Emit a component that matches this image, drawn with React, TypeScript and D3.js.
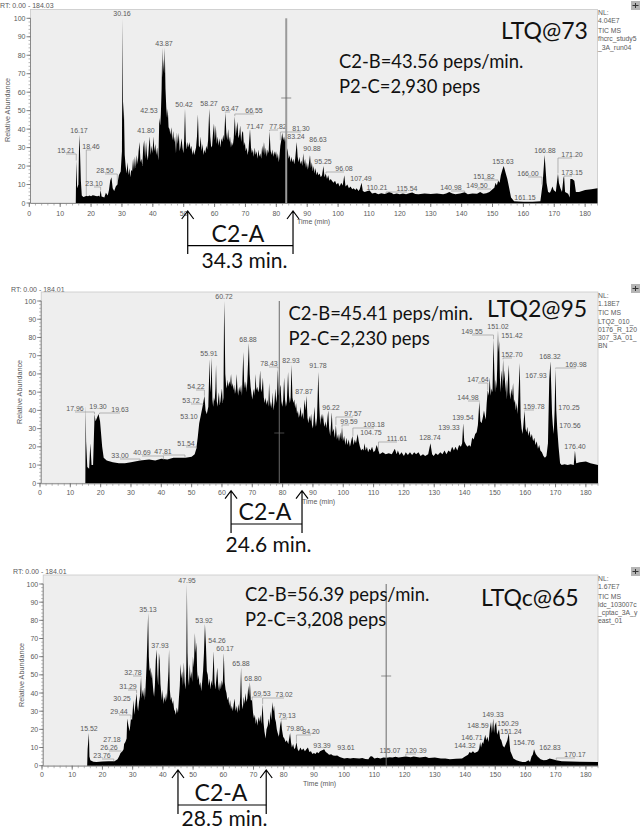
import React from "react";
import * as d3 from "d3";

// ---------- data: retention time (min) , relative abundance (%)
const trace1: number[][] = [[0,0],[14.9,0],[15.05,0],[15.21,23],[15.5,8],[15.9,10],[16.17,37],[16.4,29],[16.7,12],[17,4],[17.5,3.2],[18,3.5],[18.5,3.9],[19,3.6],[19.5,4],[20,3.7],[20.5,4.2],[21,4],[21.5,3.8],[22,3.6],[22.5,3.9],[22.8,3.4],[23.1,7],[23.4,3.5],[23.9,3.3],[24.3,3],[24.8,5.5],[25.4,4],[25.8,7],[26.2,12],[26.6,14],[27,8],[27.5,6.5],[28,9],[28.5,10],[29,15],[29.6,17],[30,28],[30.16,100],[30.35,45],[30.6,55],[30.9,26],[31.2,20],[31.5,16],[31.8,22],[32.1,15],[32.4,19],[32.7,14],[33,18],[33.3,17],[33.6,24],[33.9,18],[34.2,25],[34.5,19],[34.8,26],[35.1,21],[35.4,28],[35.7,33],[36,22],[36.3,24],[36.6,20],[36.9,30],[37.2,34],[37.5,24],[37.8,33],[38.1,26],[38.4,23],[38.7,30],[39,36],[39.3,26],[39.6,31],[39.9,27],[40.2,36],[40.5,28],[40.8,32],[41.1,26],[41.4,30],[41.8,23],[42.1,46],[42.4,42],[42.6,48],[42.85,62],[43.05,84],[43.25,68],[43.45,78],[43.65,70],[43.87,84],[44.1,62],[44.35,52],[44.6,46],[44.85,51],[45.1,41],[45.4,40],[45.7,37],[46,41],[46.3,34],[46.6,39],[46.9,33],[47.2,36],[47.5,27],[47.8,38],[48.1,32],[48.4,38],[48.7,28],[49,31],[49.3,35],[49.6,30],[49.9,27],[50.15,34],[50.42,51],[50.7,33],[51,29],[51.3,33],[51.6,30],[51.9,33],[52.2,29],[52.5,31],[52.8,26],[53.1,29],[53.4,26],[53.7,28],[54,30],[54.3,36],[54.6,48],[54.9,31],[55.2,30],[55.5,36],[55.8,28],[56.1,32],[56.4,26],[56.7,29],[57,27],[57.3,31],[57.6,29],[57.9,34],[58.27,51],[58.6,36],[58.9,30],[59.2,31],[59.5,38],[59.8,43],[60.1,34],[60.4,42],[60.7,32],[61,36],[61.3,31],[61.6,35],[61.9,30],[62.2,35],[62.5,33],[62.8,37],[63.1,34],[63.47,49],[63.8,38],[64.1,34],[64.4,40],[64.7,33],[65,36],[65.3,30],[65.6,33],[65.9,31],[66.2,35],[66.55,47],[66.85,36],[67.1,40],[67.4,44],[67.7,35],[68,37],[68.3,42],[68.6,33],[68.9,38],[69.2,39],[69.5,31],[69.8,33],[70.1,28],[70.4,30],[70.7,26],[71,29],[71.47,40],[71.8,30],[72.1,27],[72.4,29],[72.7,25],[73,30],[73.3,26],[73.6,28],[73.9,24],[74.2,29],[74.5,25],[74.8,27],[75.1,24],[75.4,31],[75.7,27],[76,33],[76.3,26],[76.6,30],[76.9,25],[77.2,29],[77.5,27],[77.82,39],[78.1,29],[78.4,26],[78.7,29],[79,25],[79.3,28],[79.6,26],[79.9,28],[80.2,24],[80.5,27],[80.8,22],[81,25],[81.3,31],[81.6,34],[81.9,38],[82.2,34],[82.5,36],[82.8,33],[83.1,35],[83.4,30],[83.7,28],[84,24],[84.3,26],[84.6,22],[84.9,25],[85.2,22],[85.5,24],[85.8,21],[86.1,24],[86.6,33],[86.9,25],[87.2,22],[87.5,25],[87.8,21],[88.1,23],[88.4,20],[88.7,27],[89,21],[89.3,24],[89.6,19],[89.9,22],[90.2,18],[90.5,21],[90.9,26],[91.2,19],[91.5,22],[91.8,17],[92.1,20],[92.4,16],[92.7,19],[93,15],[93.3,17],[93.6,15],[94,16],[94.4,14],[94.8,15],[95.25,20],[95.6,14],[96,16],[96.4,13],[96.8,15],[97.2,12],[97.6,13],[98,12],[98.5,11],[99,12],[99.5,10],[100,11],[100.5,9],[101,11],[101.5,9.5],[102,15],[102.4,9],[103,10],[103.5,8],[104,9],[104.6,7.5],[105,8],[105.6,7],[106,8],[106.6,6.5],[107,7.5],[107.6,11],[108,6.5],[108.6,6],[109.5,6.5],[110.2,6.8],[111,5.2],[112,5.5],[113,4.8],[114,5.3],[115,4.9],[115.54,5.2],[116.5,6],[117.2,5.6],[118,4.8],[119,5.2],[120,4.7],[121,5.2],[122,4.8],[123,5.3],[124,5.7],[125,4.9],[126,4.8],[128,5.1],[130,4.9],[132,5.1],[134,4.8],[135,5.2],[136,5.9],[137,5.2],[138,4.8],[139.5,5.2],[141,5.8],[142,4.7],[143.5,5.1],[145,5],[146,6],[147,5],[148,5.3],[149,6],[150,7.5],[150.6,8.2],[151,11],[151.4,9.5],[151.82,12],[152.3,11],[152.7,15],[153.2,18],[153.63,20],[154.3,16],[154.8,13],[155.3,9],[156,3],[157,1],[160,0.7],[163,0.7],[165.5,1],[166.2,10],[166.88,26],[167.2,18],[167.5,11],[168,6],[168.6,5.5],[169,7],[169.4,9],[169.8,7],[170.5,6],[171.2,16],[171.5,11],[172,8],[172.5,6],[173,14],[173.2,14],[173.5,6],[174.5,5],[175,3],[175.2,13],[175.8,13],[176.5,12],[177,6],[178,6],[180,7],[182,7.5],[184,8]];
const trace2: number[][] = [[0,0],[14.95,0],[15.05,43],[15.2,23],[15.6,9],[16.2,8],[16.6,22],[17,10],[17.5,10],[18,38],[18.3,34],[18.8,36],[19.3,38],[19.8,34],[20.5,20],[21,14],[22,12.5],[24,11.5],[26,11],[28,11],[30,11.5],[33,12.5],[36,13],[38,12.5],[40,13.5],[42,13],[44,14],[46,14],[48,14],[50,14.5],[51,16],[51.54,19],[52,25],[52.5,33],[53,37],[53.7,43],[54.22,48],[54.6,40],[55,38],[55.5,42],[55.91,68],[56.15,50],[56.35,55],[56.6,69],[56.85,46],[57.1,42],[57.35,47],[57.6,45],[57.85,52],[58.05,65],[58.3,45],[58.55,42],[58.8,47],[59,50],[59.25,43],[59.5,45],[59.75,49],[60,52],[60.25,44],[60.5,47],[60.72,100],[60.9,85],[61.1,60],[61.35,54],[61.6,52],[61.85,57],[62.1,53],[62.4,56],[62.7,54],[63,60],[63.25,53],[63.5,55],[63.75,51],[64,54],[64.3,49],[64.6,52],[64.85,60],[65.1,52],[65.35,48],[65.65,53],[66,50],[66.3,54],[66.6,48],[66.85,62],[67.05,72],[67.3,56],[67.6,52],[67.9,56],[68.15,50],[68.45,60],[68.88,77],[69.15,60],[69.45,53],[69.75,49],[70,46],[70.3,50],[70.6,52],[70.85,48],[71.05,60],[71.35,51],[71.65,53],[71.95,50],[72.25,52],[72.6,62],[72.9,50],[73.2,52],[73.5,58],[73.8,47],[74.1,44],[74.4,47],[74.7,43],[75,46],[75.3,42],[75.55,55],[75.85,42],[76.15,45],[76.45,41],[76.7,50],[77,40],[77.3,44],[77.6,52],[77.9,44],[78.15,48],[78.43,63],[78.75,48],[79.05,52],[79.3,54],[79.6,45],[79.9,42],[80.2,46],[80.5,58],[80.8,46],[81.1,42],[81.4,45],[81.8,61],[82.1,48],[82.4,44],[82.65,47],[82.93,65],[83.25,47],[83.55,44],[83.85,46],[84.15,41],[84.45,44],[84.75,38],[85.05,40],[85.35,36],[85.65,38],[85.95,42],[86.25,36],[86.55,39],[86.85,35],[87.2,46],[87.55,40],[87.87,48],[88.2,36],[88.5,33],[88.8,37],[89.1,34],[89.4,38],[89.7,32],[90,30],[90.25,36],[90.5,42],[90.75,34],[91,31],[91.35,36],[91.78,61],[92.1,42],[92.4,32],[92.7,38],[93,35],[93.3,38],[93.6,33],[93.9,31],[94.2,34],[94.5,30],[94.8,36],[95.05,40],[95.35,30],[95.7,26],[96.22,39],[96.5,28],[96.8,30],[97.2,25],[97.57,32],[97.9,24],[98.3,27],[98.6,23],[99,28],[99.3,24],[99.59,31],[99.9,23],[100.3,26],[100.7,21],[101,25],[101.4,21],[101.8,24],[102.2,20],[102.6,23],[103,26],[103.4,21],[103.8,24],[104.2,22],[104.75,27],[105.1,23],[105.5,20],[105.9,18],[106.3,19],[106.7,18],[107,22],[107.4,18],[107.8,20],[108.2,17],[108.6,19],[109,18],[109.5,20],[110,17],[110.5,18],[111,21],[111.6,18],[112,16],[113,17],[114,16],[115,16.5],[116,16],[117,19],[117.6,16],[118,18],[118.6,15.5],[119.2,17],[120,15],[120.6,17],[121.3,15.5],[122,17],[122.7,15.5],[123.4,17],[124,16],[124.8,17],[125.5,15],[126.3,16],[127,15],[128,16],[128.74,22],[129.3,16],[129.8,15],[130.5,16.5],[131.2,15.5],[132,17],[132.7,16],[133.4,18],[134,16],[134.7,18],[135.3,17],[135.9,20],[136.5,18],[137,20],[137.6,18],[138.2,21],[138.8,20],[139.2,22],[139.54,33],[139.9,23],[140.5,21],[141,20],[141.5,21],[142,20],[142.5,25],[143,24],[143.5,27],[144,28],[144.4,32],[144.88,45],[145.2,34],[145.6,33],[146,36],[146.4,40],[146.7,37],[147,35],[147.3,44],[147.64,51],[148,48],[148.3,58],[148.6,48],[148.9,52],[149.2,50],[149.55,79],[149.8,62],[150.05,50],[150.3,57],[150.55,52],[150.75,63],[151.02,84],[151.2,72],[151.42,78],[151.65,58],[151.85,50],[152.05,58],[152.25,62],[152.45,52],[152.7,68],[152.95,56],[153.2,62],[153.45,50],[153.7,57],[153.95,46],[154.2,54],[154.6,65],[154.85,50],[155.1,46],[155.4,52],[155.7,48],[156,55],[156.3,44],[156.6,46],[156.9,40],[157.2,44],[157.5,38],[157.85,52],[158.2,66],[158.5,36],[158.8,30],[159.1,27],[159.4,32],[159.78,40],[160.1,30],[160.4,28],[160.7,31],[161,26],[161.4,29],[161.8,25],[162.2,27],[162.6,23],[163,25],[163.4,21],[163.8,23],[164.2,19],[164.6,21],[165,18],[165.5,17],[166,15],[166.5,14],[167,15],[167.5,22],[167.93,57],[168.32,67],[168.6,52],[168.85,38],[169.1,32],[169.4,27],[169.7,40],[169.98,63],[170.25,40],[170.56,30],[171,20],[171.5,11],[172,10],[173,10.5],[174,10],[175,10.5],[176,10],[176.4,18],[176.8,11],[178,11.5],[180,12],[181.5,11],[184,10]];
const trace3: number[][] = [[0,0],[14.95,0],[15.1,9],[15.52,18],[15.7,5],[16,3],[17,2.2],[18,2],[20,2.3],[22,2.5],[24,2.5],[25,3.5],[25.5,5],[26,7],[26.6,8],[27,9],[27.18,12],[27.6,13],[28,15],[28.2,26],[28.6,22],[29,19],[29.44,26],[29.8,25],[30,30],[30.25,36],[30.55,28],[30.85,33],[31.29,40],[31.55,33],[31.8,30],[32.1,35],[32.4,38],[32.78,49],[33,37],[33.25,42],[33.5,38],[33.8,43],[34.05,36],[34.3,44],[34.6,55],[34.85,68],[35.13,84],[35.35,60],[35.6,52],[35.85,54],[36.1,48],[36.35,52],[36.6,46],[36.85,41],[37.1,38],[37.35,44],[37.65,58],[37.93,64],[38.2,50],[38.45,44],[38.7,62],[38.95,58],[39.2,45],[39.45,40],[39.7,36],[39.95,42],[40.2,34],[40.5,38],[40.8,35],[41.05,40],[41.35,36],[41.6,44],[41.85,52],[42.05,64],[42.3,42],[42.6,36],[42.85,38],[43.1,34],[43.4,36],[43.7,31],[44,30],[44.3,28],[44.6,32],[45,29],[45.3,37],[45.6,44],[45.85,56],[46.15,48],[46.4,52],[46.65,44],[46.95,57],[47.2,46],[47.5,42],[47.75,54],[47.95,100],[48.15,62],[48.4,48],[48.65,44],[48.9,56],[49.15,48],[49.45,52],[49.7,46],[49.95,60],[50.25,54],[50.6,73],[50.85,62],[51.1,68],[51.35,52],[51.6,47],[51.85,50],[52.1,44],[52.4,46],[52.7,41],[53,46],[53.3,52],[53.6,62],[53.92,78],[54.26,66],[54.55,52],[54.85,50],[55.15,44],[55.45,48],[55.75,42],[56.05,47],[56.35,44],[56.8,63],[57.1,46],[57.4,42],[57.7,48],[58,54],[58.3,45],[58.6,41],[58.9,46],[59.2,42],[59.5,47],[59.8,44],[60.17,62],[60.45,46],[60.75,42],[61.05,40],[61.35,36],[61.65,38],[61.95,33],[62.25,36],[62.55,31],[62.85,33],[63.15,30],[63.45,34],[63.75,37],[64.05,30],[64.35,33],[64.65,29],[64.95,34],[65.3,30],[65.6,38],[65.88,54],[66.15,34],[66.45,31],[66.75,38],[67.05,34],[67.35,40],[67.65,35],[67.95,37],[68.3,44],[68.55,38],[68.8,46],[69.1,36],[69.53,36],[69.85,29],[70.15,26],[70.45,28],[70.75,23],[71.05,26],[71.35,22],[71.65,27],[71.95,24],[72.25,28],[72.55,23],[73.02,34],[73.3,24],[73.6,19],[74,15],[74.3,20],[74.7,22],[75,26],[75.3,22],[75.6,30],[75.9,25],[76.2,35],[76.5,30],[76.8,33],[77.1,26],[77.4,24],[77.7,20],[78,18],[78.4,16],[78.8,22],[79.13,25],[79.4,20],[79.8,16],[80.2,15],[80.6,13],[81,14],[81.5,12],[81.8,15],[82.1,18],[82.4,13],[82.7,10],[83.1,12],[83.5,9],[83.85,10],[84.2,13],[84.6,9],[85,8],[85.5,10],[86,8.5],[86.5,9.5],[87,8],[87.5,9],[88,10],[88.5,7.5],[89,8],[89.5,6.5],[90,7],[90.5,6.5],[91,7.5],[91.5,6.8],[92,8],[92.7,8.5],[93.39,9],[93.9,7.5],[94.4,7],[95,6],[95.7,6.3],[96.3,5.6],[97,5.5],[97.7,5.6],[98.5,4.8],[100,4],[101,4.3],[102,3.9],[103,4.3],[105,4],[106,4.2],[107,3.7],[108,3.5],[108.6,5],[109.2,5.2],[110,4],[111,4.4],[112,4],[113,4.5],[114,4.4],[115.07,4.7],[116,4.5],[117,4.9],[118,4.5],[120.39,5],[122,4.6],[123,5],[125,4.5],[127,4.9],[128,4.3],[130,4.5],[132,4],[133.5,4],[135,3.5],[137,3.8],[139,4],[140,5],[141,6],[141.5,7.5],[142,7],[142.6,8],[143.2,7],[144.32,8],[144.7,9.5],[145,13],[145.3,10],[145.7,13],[146,12],[146.4,15],[146.71,17],[147,14],[147.4,16],[147.8,13],[148.2,20],[148.59,24],[148.9,18],[149.33,26],[149.6,18],[149.85,22],[150.29,24],[150.6,17],[151,19],[151.24,20],[151.6,15],[152,14],[152.5,11],[153,10],[153.5,12],[154,14],[154.5,18],[154.76,12],[155,8],[155.5,6],[156,4],[157,3],[158,2.5],[159,2],[160,2],[161,3],[161.5,2],[162,5],[162.4,6],[162.83,9],[163.4,6.5],[164,5],[165,3.5],[166,3],[167,3.2],[168,4],[169,3.6],[170.17,3],[172,2.5],[178,2.2],[184,2]];

const peakNames1 = ["30.16","43.87","42.53","41.80","50.42","58.27","63.47","66.55","71.47","77.82","81.30","83.24","86.63","90.88","95.25","96.08","107.49","110.21","115.54","140.98","149.50","151.82","153.63","166.00","161.15","166.88","171.20","173.15","15.21","16.17","18.46","23.10","28.50"];
const peakNames2 = ["60.72","68.88","55.91","78.43","82.93","91.78","54.22","53.72","53.10","51.54","87.87","47.81","40.69","33.00","19.30","19.63","17.96","96.22","97.57","99.59","103.18","104.75","111.61","128.74","139.33","139.54","144.98","147.64","149.55","151.02","151.42","152.70","159.78","167.93","168.32","169.98","170.25","170.56","176.40"];
const peakNames3 = ["47.95","35.13","53.92","54.26","37.93","60.17","65.88","32.78","68.80","31.29","69.53","73.02","30.25","29.44","79.13","15.52","79.80","84.20","27.18","26.26","23.76","93.39","93.61","115.07","120.39","144.32","146.71","148.59","149.33","150.29","151.24","154.76","162.83","170.17"];

const gradient1 = [51.3, 85.4];
const gradient2 = [63.0, 86.4];
const gradient3 = [45.0, 74.2];
const cursorTimes = [83.2, 78.9, 113.9];

const sideNotes1 = ["NL:", "4.04E7", "TIC  MS", "fhcrc_study5", "_3A_run04"];
const sideNotes2 = ["NL:", "1.18E7", "TIC  MS", "LTQ2_010_", "0176_R_120", "307_3A_01_", "BN"];
const sideNotes3 = ["NL:", "1.67E7", "TIC  MS", "ldc_103007c", "_cptac_3A_y", "east_01"];

// ---------- layout
const labelAt1 = [[122,13],[164,43],[149,110],[146,130],[184,104],[209,103],[230,108],[254,110],[255,126],[278,126],[301,128],[296,136],[318,139],[312,148],[323,161],[344,168],[361,178],[377,187],[407,188],[451,187],[477,185],[484,176],[503,161],[528,173],[525,197],[545,150],[572,154],[572,172],[66,150],[79,130],[91,146],[94,183],[105,170]];
const labelAt2 = [[224,296],[248,339],[209,353],[269,363],[291,360],[318,365],[196,386],[191,400],[189,416],[186,443],[304,391],[163,451],[142,452],[120,455],[98,406],[120,409],[75,408],[331,407],[353,413],[349,421],[374,424],[371,432],[397,438],[430,437],[449,427],[463,417],[468,397],[478,379],[472,331],[498,326],[512,335],[512,354],[534,406],[536,375],[550,356],[576,364],[569,407],[570,425],[575,446]];
const labelAt3 = [[187,580],[148,609],[204,620],[217,640],[160,645],[225,648],[241,663],[133,672],[253,678],[128,686],[262,693],[284,694],[122,698],[119,711],[287,715],[89,728],[295,728],[311,731],[112,739],[109,747],[102,755],[322,745],[346,747],[390,750],[416,750],[465,745],[472,737],[478,725],[493,714],[508,723],[511,731],[524,742],[550,747],[575,754]];

const CHART = "'Liberation Sans', Arial, sans-serif";
const NOTE = "Lato, 'Open Sans', sans-serif";
const GREY = "#5a5a5a";

type PanelSpec = {
  trace: number[][]; names: string[]; spots: number[][]; notes: string[]; span: number[]; cursor: number;
  rt: string; rtX: number; rtY: number; top: number; y100: number; y0: number; x0: number; xEnd: number;
  yLabelX: number; yLabelY: number; timeX: number; timeY: number; tickY: number; crossY: number; cursorColor: string; cursorW: number;
  sideY: number[]; iconY: number;
  title: string; titleX: number; titleY: number; line1: string; line2: string; lineX: number; line1Y: number; line2Y: number;
  arrowTop: number; arrowBottom: number; barY: number; capX: number; capY: number; durText: string; durX: number; durY: number;
};

const panels: PanelSpec[] = [
  { trace: trace1, names: peakNames1, spots: labelAt1, notes: sideNotes1, span: gradient1, cursor: cursorTimes[0],
    rt: "RT: 0.00 - 184.03", rtX: 0, rtY: 7.5, top: 9.5, y100: 18.3, y0: 203, x0: 29.3, xEnd: 597.5,
    yLabelX: 10, yLabelY: 110, timeX: 297, timeY: 224, tickY: 215.5, crossY: 98, cursorColor: "#9a9a9a", cursorW: 2,
    sideY: [15, 23, 33, 41, 50], iconY: 1,
    title: "LTQ@73", titleX: 501, titleY: 38.7, line1: "C2-B=43.56 peps/min.", line2: "P2-C=2,930 peps", lineX: 339, line1Y: 67.7, line2Y: 92.7,
    arrowTop: 211, arrowBottom: 254, barY: 245.7, capX: 238, capY: 241.7, durText: "34.3 min.", durX: 244.5, durY: 268 },
  { trace: trace2, names: peakNames2, spots: labelAt2, notes: sideNotes2, span: gradient2, cursor: cursorTimes[1],
    rt: "RT: 0.00 - 184.01", rtX: 11, rtY: 291.5, top: 292, y100: 301, y0: 483.3, x0: 40, xEnd: 598,
    yLabelX: 21.5, yLabelY: 392, timeX: 302, timeY: 504, tickY: 494.5, crossY: 433, cursorColor: "#6a6a6a", cursorW: 1,
    sideY: [298, 306, 315, 324, 332, 340, 348], iconY: 284,
    title: "LTQ2@95", titleX: 487, titleY: 316.7, line1: "C2-B=45.41 peps/min.", line2: "P2-C=2,230 peps", lineX: 288.5, line1Y: 320, line2Y: 345,
    arrowTop: 490.7, arrowBottom: 533, barY: 524, capX: 265, capY: 520, durText: "24.6 min.", durX: 268.5, durY: 551.7 },
  { trace: trace3, names: peakNames3, spots: labelAt3, notes: sideNotes3, span: gradient3, cursor: cursorTimes[2],
    rt: "RT: 0.00 - 184.01", rtX: 13, rtY: 573.5, top: 575, y100: 584, y0: 765.7, x0: 42, xEnd: 598,
    yLabelX: 24, yLabelY: 675, timeX: 303, timeY: 786, tickY: 776.5, crossY: 676, cursorColor: "#6a6a6a", cursorW: 1,
    sideY: [581, 589, 599, 607, 615, 623], iconY: 567,
    title: "LTQc@65", titleX: 481, titleY: 605.7, line1: "C2-B=56.39 peps/min.", line2: "P2-C=3,208 peps", lineX: 245, line1Y: 600.7, line2Y: 625.7,
    arrowTop: 770, arrowBottom: 814, barY: 805, capX: 221, capY: 800.7, durText: "28.5 min.", durX: 224.5, durY: 825.5 },
];

function Panel({ p }: { p: PanelSpec }) {
  const x = d3.scaleLinear().domain([0, 184]).range([p.x0, p.xEnd]);
  const y = d3.scaleLinear().domain([0, 100]).range([p.y0, p.y100]);
  const area = d3.area<number[]>().x(d => x(d[0])).y0(p.y0).y1(d => y(d[1])).curve(d3.curveLinear);
  const peakValue = (t: number) => {
    const near = p.trace.filter(d => Math.abs(d[0] - t) <= 0.45);
    if (near.length) return d3.max(near, d => d[1]) as number;
    const i = d3.bisector((d: number[]) => d[0]).left(p.trace, t);
    return p.trace[Math.min(i, p.trace.length - 1)][1];
  };
  const xMinor = d3.range(0, 185, 2);
  const xMajor = d3.range(0, 181, 10);
  const yMinor = d3.range(0, 101, 2);
  const yMajor = d3.range(0, 101, 10);
  const left = p.x0 + 1.2;
  const arrow = (t: number) => {
    const ax = x(t);
    return `M${ax},${p.arrowBottom}V${p.arrowTop}M${ax - 6},${p.arrowTop + 8}L${ax},${p.arrowTop}L${ax + 6},${p.arrowTop + 8}`;
  };
  return (
    <g opacity={0.999}>
      <text x={p.rtX} y={p.rtY} fontFamily={CHART} fontSize={7} fill={GREY}>{p.rt}</text>
      <rect x={left} y={p.top} width={p.xEnd - left} height={p.y0 - p.top} fill="#eeeeee" stroke="#c8c8c8" strokeWidth={0.8} />
      <path d={area(p.trace) as string} fill="#000" stroke="none" />
      {/* axes */}
      <line x1={left} x2={left} y1={p.y100} y2={p.y0} stroke="#777" strokeWidth={0.8} />
      <line x1={left} x2={p.xEnd} y1={p.y0 + 0.5} y2={p.y0 + 0.5} stroke="#777" strokeWidth={0.8} />
      {yMinor.map(v => <line key={"ym" + v} x1={left - 2} x2={left} y1={y(v)} y2={y(v)} stroke="#888" strokeWidth={0.6} />)}
      {yMajor.map(v => <line key={"yM" + v} x1={left - 4} x2={left} y1={y(v)} y2={y(v)} stroke="#666" strokeWidth={0.8} />)}
      {yMajor.map(v => <text key={"yt" + v} x={left - 5} y={y(v) + 2.5} textAnchor="end" fontFamily={CHART} fontSize={7} fill={GREY}>{v}</text>)}
      {xMinor.map(v => <line key={"xm" + v} x1={x(v)} x2={x(v)} y1={p.y0} y2={p.y0 + 2.5} stroke="#888" strokeWidth={0.6} />)}
      {xMajor.map(v => <line key={"xM" + v} x1={x(v)} x2={x(v)} y1={p.y0} y2={p.y0 + 4} stroke="#666" strokeWidth={0.8} />)}
      {xMajor.map(v => <text key={"xt" + v} x={x(v)} y={p.tickY} textAnchor="middle" fontFamily={CHART} fontSize={7} fill={GREY}>{v}</text>)}
      <text transform={`translate(${p.yLabelX},${p.yLabelY}) rotate(-90)`} textAnchor="middle" fontFamily={CHART} fontSize={7.2} fill={GREY}>Relative Abundance</text>
      <text x={p.timeX} y={p.timeY} fontFamily={CHART} fontSize={7} fill={GREY}>Time (min)</text>
      {/* peak labels */}
      {p.names.map((name, i) => {
        const t = +name;
        const [lx, ly] = p.spots[i];
        const px = x(t);
        const py = y(peakValue(t));
        const under = ly + 4;
        const far = Math.abs(lx - px) > 4 && py > under;
        return (
          <g key={name + i}>
            {far && <path d={`M${lx},${under}H${px}V${py}`} fill="none" stroke="#9a9a9a" strokeWidth={0.7} />}
            <text x={lx} y={ly + 2.5} textAnchor="middle" fontFamily={CHART} fontSize={7} fill={GREY}>{name}</text>
          </g>
        );
      })}
      {/* cursor */}
      <line x1={x(p.cursor)} x2={x(p.cursor)} y1={p.y100} y2={p.y0} stroke={p.cursorColor} strokeWidth={p.cursorW} />
      <line x1={x(p.cursor) - 5} x2={x(p.cursor) + 5} y1={p.crossY} y2={p.crossY} stroke="#666" strokeWidth={0.7} />
      {/* side notes */}
      {p.notes.map((s, i) => <text key={i} x={598} y={p.sideY[i]} fontFamily={CHART} fontSize={6.8} fill={GREY}>{s}</text>)}
      <rect x={631} y={p.iconY} width={9} height={9} fill="#b5b5b5" />
      <path d={`M632.5,${p.iconY + 4.5}H638.5M635.5,${p.iconY + 2}V${p.iconY + 7}`} stroke="#333" strokeWidth={1} />
      {/* annotations */}
      <text x={p.titleX} y={p.titleY} fontFamily={NOTE} fontSize={23} fill="#111">{p.title}</text>
      <text x={p.lineX} y={p.line1Y} fontFamily={NOTE} fontSize={18.4} fill="#111">{p.line1}</text>
      <text x={p.lineX} y={p.line2Y} fontFamily={NOTE} fontSize={18.4} fill="#111">{p.line2}</text>
      <path d={arrow(p.span[0])} fill="none" stroke="#000" strokeWidth={1.2} />
      <path d={arrow(p.span[1])} fill="none" stroke="#000" strokeWidth={1.2} />
      <line x1={x(p.span[0])} x2={x(p.span[1])} y1={p.barY} y2={p.barY} stroke="#000" strokeWidth={1.2} />
      <text x={p.capX} y={p.capY} textAnchor="middle" fontFamily={NOTE} fontSize={23} fill="#111">C2-A</text>
      <text x={p.durX} y={p.durY} textAnchor="middle" fontFamily={NOTE} fontSize={21} fill="#111">{p.durText}</text>
    </g>
  );
}

export default function App() {
  return (
    <svg width={640} height={829} viewBox="0 0 640 829" style={{ position: "absolute", left: 0, top: 0, background: "#fff" }}>
      {panels.map((p, i) => <Panel key={i} p={p} />)}
    </svg>
  );
}
